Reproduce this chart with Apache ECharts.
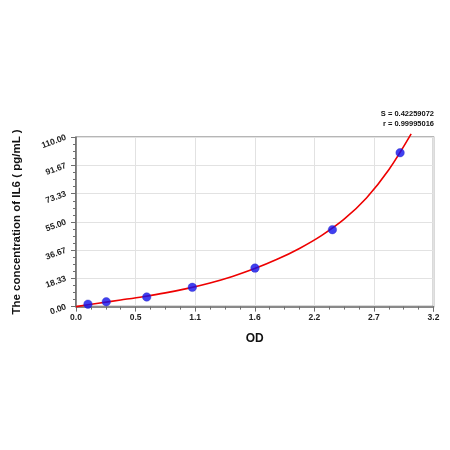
<!DOCTYPE html>
<html>
<head>
<meta charset="utf-8">
<script src="https://cdn.jsdelivr.net/npm/echarts@6/dist/echarts.min.js"></script>
<style>
html,body{margin:0;padding:0;background:#fff;}
#c{width:450px;height:450px;}
</style>
</head>
<body>
<div id="c"></div>
<script>
// Standard points
const stdOD = [0.107, 0.271, 0.633, 1.041, 1.602, 2.295, 2.901];
const stdConc = [1.56, 3.12, 6.25, 12.5, 25, 50, 100];
// Fitted curve
const curveOD = [0, 0.2, 0.4, 0.6, 0.8, 1.0, 1.2, 1.4, 1.6, 1.8, 2.0, 2.2, 2.4, 2.6, 2.8, 3.0];
const curveConc = [0, 2.2, 4.3, 6.45, 8.9, 11.85, 15.35, 19.6, 24.7, 30.7, 37.8, 46.3, 56.8, 70.6, 88.9, 112.2];
// Axis settings and tick labels
const xMin = 0, xMax = 3.2, xSteps = 6;
const yMin = 0, yMax = 110, ySteps = 6;
const xTickLabels = ['0.0', '0.5', '1.1', '1.6', '2.2', '2.7', '3.2'];
const yTickLabels = ['0.00', '18.33', '36.67', '55.00', '73.33', '91.67', '110.00'];
const statLines = ['S = 0.42259072', 'r = 0.99995016'];
const xTitle = 'OD';
const yTitle = 'The concentration of IL6 ( pg/mL )';

const chart = echarts.init(document.getElementById('c'));
const axisColor = '#6e6e6e';
const font = 'Arial, "Liberation Sans", sans-serif';
const xStep = (xMax - xMin) / xSteps, yStep = (yMax - yMin) / ySteps;
chart.setOption({
  animation: false,
  backgroundColor: '#fff',
  grid: {left: 76, right: 16.5, top: 137.3, bottom: 143.4, show: true, borderColor: axisColor, borderWidth: 1.5, backgroundColor: '#fff'},
  xAxis: {
    type: 'value', min: xMin, max: xMax, interval: xStep,
    name: xTitle, nameLocation: 'middle', nameGap: 26,
    nameTextStyle: {fontFamily: font, fontWeight: 'bold', fontSize: 12, color: '#111'},
    axisLine: {show: true, lineStyle: {color: axisColor, width: 1.5}},
    axisTick: {show: true, length: 5, lineStyle: {color: axisColor}},
    minorTick: {show: true, splitNumber: 4, length: 3, lineStyle: {color: axisColor}},
    splitLine: {show: true, lineStyle: {color: '#e2e2e2', width: 1}},
    axisLabel: {fontFamily: font, fontWeight: 'bold', fontSize: 8.5, color: '#222', margin: 7,
      formatter: v => xTickLabels[Math.round((v - xMin) / xStep)] || ''}
  },
  yAxis: {
    type: 'value', min: yMin, max: yMax, interval: yStep,
    name: yTitle, nameLocation: 'middle', nameGap: 53,
    nameTextStyle: {fontFamily: font, fontWeight: 'bold', fontSize: 11.5, color: '#111'},
    axisLine: {show: true, lineStyle: {color: axisColor, width: 1.5}},
    axisTick: {show: true, length: 5, lineStyle: {color: axisColor}},
    minorTick: {show: true, splitNumber: 4, length: 3, lineStyle: {color: axisColor}},
    splitLine: {show: true, lineStyle: {color: '#e2e2e2', width: 1}},
    axisLabel: {fontFamily: font, fontWeight: 'bold', fontSize: 8.5, color: '#222', margin: 10, rotate: 20,
      formatter: v => yTickLabels[Math.round((v - yMin) / yStep)] || ''}
  },
  graphic: statLines.map((t, i) => ({
    type: 'text', right: 16, top: 109.5 + i * 10,
    style: {text: t, fontFamily: font, fontWeight: 'bold', fontSize: 7.5, fill: '#111', textAlign: 'right'}
  })),
  series: [
    {
      type: 'line', data: curveOD.map((x, i) => [x, curveConc[i]]),
      smooth: 0.35, showSymbol: false, symbol: 'none', clip: false,
      lineStyle: {color: '#ee0000', width: 1.6}, z: 2
    },
    {
      type: 'scatter', data: stdOD.map((x, i) => [x, stdConc[i]]),
      symbolSize: 8.5, itemStyle: {color: '#1010ee', borderColor: '#3030c0', borderWidth: 0.5}, z: 3
    }
  ]
});
</script>
</body>
</html>
